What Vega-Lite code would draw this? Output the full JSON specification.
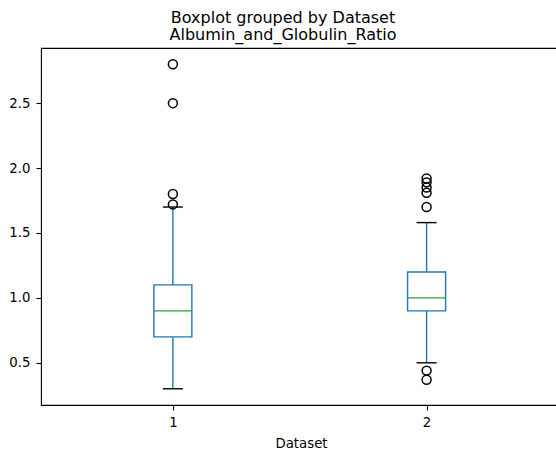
{
  "$schema": "https://vega.github.io/schema/vega-lite/v6.json",
  "autosize": "none",
  "padding": {"left": 41, "top": 48, "right": 0, "bottom": 45},
  "width": 520,
  "height": 357,
  "background": "white",
  "config": {
    "font": "DejaVu Sans",
    "view": {"stroke": "black", "strokeWidth": 1.1},
    "axis": {"grid": false, "domain": false, "tickColor": "black", "tickSize": 5, "tickWidth": 1.1, "labelColor": "black", "labelFont": "DejaVu Sans", "labelFontSize": 13.3, "titleFont": "DejaVu Sans", "titleFontSize": 13.3, "titleFontWeight": "normal", "titleColor": "black"}
  },
  "title": {
    "text": ["Boxplot grouped by Dataset", "Albumin_and_Globulin_Ratio"],
    "fontSize": 16,
    "fontWeight": "normal",
    "font": "DejaVu Sans",
    "color": "black",
    "lineHeight": 17.5,
    "anchor": "middle",
    "dx": -18,
    "offset": 5
  },
  "datasets": {
    "stats": [
      {"Dataset": 1, "lower": 0.3, "q1": 0.7, "median": 0.9, "q3": 1.1, "upper": 1.7},
      {"Dataset": 2, "lower": 0.5, "q1": 0.9, "median": 1.0, "q3": 1.2, "upper": 1.58}
    ],
    "outliers": [
      {"Dataset": 1, "value": 1.72},
      {"Dataset": 1, "value": 1.8},
      {"Dataset": 1, "value": 2.5},
      {"Dataset": 1, "value": 2.8},
      {"Dataset": 2, "value": 1.7},
      {"Dataset": 2, "value": 1.81},
      {"Dataset": 2, "value": 1.85},
      {"Dataset": 2, "value": 1.89},
      {"Dataset": 2, "value": 1.92},
      {"Dataset": 2, "value": 0.44},
      {"Dataset": 2, "value": 0.37}
    ]
  },
  "encoding": {
    "x": {"field": "Dataset", "type": "quantitative", "scale": {"domain": [0.5, 2.51], "nice": false, "zero": false},
      "axis": {"values": [1, 2], "format": "d", "title": "Dataset", "labelPadding": 5, "titlePadding": 8}}
  },
  "layer": [
    {
      "data": {"name": "stats"},
      "mark": {"type": "rule", "color": "#1f77b4", "strokeWidth": 1.4},
      "encoding": {
        "y": {"field": "lower", "type": "quantitative", "scale": {"domain": [0.175, 2.925], "nice": false, "zero": false},
          "axis": {"values": [0.5, 1.0, 1.5, 2.0, 2.5], "format": ".1f", "title": null, "labelPadding": 6}},
        "y2": {"field": "q1"}
      }
    },
    {
      "data": {"name": "stats"},
      "mark": {"type": "rule", "color": "#1f77b4", "strokeWidth": 1.4},
      "encoding": {
        "y": {"field": "q3", "type": "quantitative"},
        "y2": {"field": "upper"}
      }
    },
    {
      "data": {"name": "stats"},
      "mark": {"type": "bar", "size": 38, "fill": "white", "stroke": "#1f77b4", "strokeWidth": 1.4, "orient": "vertical"},
      "encoding": {
        "y": {"field": "q1", "type": "quantitative"},
        "y2": {"field": "q3"}
      }
    },
    {
      "data": {"name": "stats"},
      "mark": {"type": "tick", "orient": "horizontal", "size": 38, "thickness": 1.4, "color": "#2ca02c", "opacity": 1},
      "encoding": {
        "y": {"field": "median", "type": "quantitative"}
      }
    },
    {
      "data": {"name": "stats"},
      "mark": {"type": "tick", "orient": "horizontal", "size": 20, "thickness": 1.4, "color": "black", "opacity": 1},
      "encoding": {
        "y": {"field": "lower", "type": "quantitative"}
      }
    },
    {
      "data": {"name": "stats"},
      "mark": {"type": "tick", "orient": "horizontal", "size": 20, "thickness": 1.4, "color": "black", "opacity": 1},
      "encoding": {
        "y": {"field": "upper", "type": "quantitative"}
      }
    },
    {
      "data": {"name": "outliers"},
      "mark": {"type": "point", "shape": "circle", "filled": false, "stroke": "black", "strokeWidth": 1.5, "size": 80, "opacity": 1},
      "encoding": {
        "y": {"field": "value", "type": "quantitative"}
      }
    }
  ]
}
